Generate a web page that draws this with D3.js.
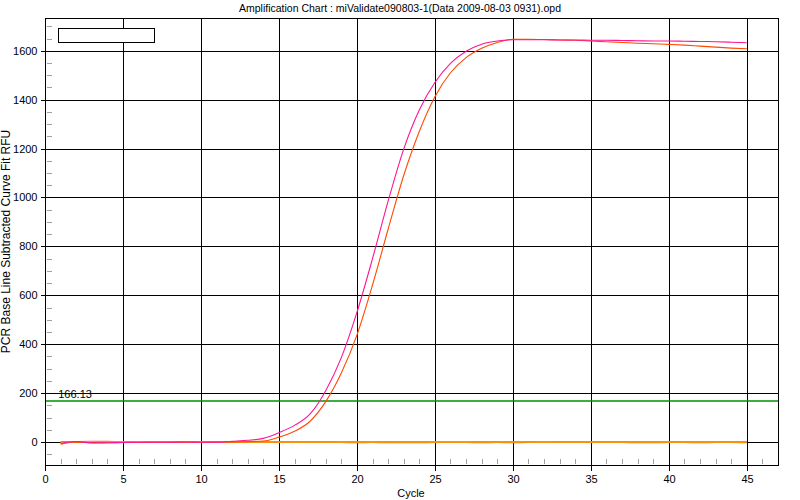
<!DOCTYPE html>
<html><head><meta charset="utf-8">
<script src="https://cdn.jsdelivr.net/npm/d3@7"></script>
<style>body{margin:0;background:#fff} text{font-family:"Liberation Sans",Arial,sans-serif;fill:#000}</style>
</head><body><svg id="c" width="800" height="500"></svg>
<script>
const title = "Amplification Chart : miValidate090803-1(Data 2009-08-03 0931).opd";
const xLabel = "Cycle";
const yLabel = "PCR Base Line Subtracted Curve Fit RFU";
const cycles = d3.range(1, 46);
const xTicks = [0, 5, 10, 15, 20, 25, 30, 35, 40, 45];
const yTicks = [0, 200, 400, 600, 800, 1000, 1200, 1400, 1600];
const threshold = 166.13;

// magenta well
const wellA = [-6,2,-3,-3,-2,-1,-1,-1,0,-1,-1,3,7,15,38,68,115,210,345,530,750,985,1198,1358,1470,1548,1598,1627,1640,1645,1645,1645,1644,1644,1643,1643,1642,1641,1640,1640,1639,1638,1637,1635,1633];
// orange-red well
const wellB = [-9,0,-4,-3,-2,-2,-1,-1,-1,-1,0,0,2,4,20,44,85,165,282,437,642,870,1090,1270,1412,1510,1572,1610,1634,1647,1647,1646,1644,1643,1640,1637,1634,1631,1629,1626,1623,1619,1615,1611,1608];
// near-zero wells
const ntcBlack = [0,0,1,0,0,-1,0,0,0,-1,0,0,0,0,0,0,0,0,-1,0,-1,0,0,0,-1,-1,-1,0,0,0,0,-1,0,0,0,0,0,0,0,0,0,0,0,0,0];
const ntcDark = [-3,1,2,2,-1,-1,-1,0,-1,-1,-1,-1,0,-1,-1,-1,-1,-1,-1,-2,-1,-2,-2,-2,-1,-1,-1,-2,-1,-2,-1,-1,-1,-1,-1,-1,-1,-2,-2,-1,-1,-2,-1,-1,-2];
const ntcOrange = [-2,0,1,0,0,0,0,0,0,0,0,0,0,0,0,0,0,0,0,0,0,0,0,0,0,0,0,0,0,0,0,0,0,0,0,0,0,0,0,0,0,0,0,0,0];

const series = [
  {values: ntcBlack, color: "#202020", w: 1.2},
  {values: ntcDark, color: "#E07A28", w: 1.6},
  {values: ntcOrange, color: "#FF9A00", w: 1.4},
  {values: wellB, color: "#FF4A00", w: 1.1},
  {values: wellA, color: "#FF1493", w: 1.1}
];

const svg = d3.select("#c");
const L = 45, R = 778, T = 18, B = 465;
const x = d3.scaleLinear().domain([0, 47]).range([L, R]);
const y = d3.scaleLinear().domain([-94, 1734]).range([B, T]);

svg.append("rect").attr("width", 800).attr("height", 500).attr("fill", "#fff");

// minor ticks
const gMinor = svg.append("g").attr("stroke", "#a0a0a0").attr("shape-rendering", "crispEdges");
d3.range(1, 47).filter(d => d % 5 !== 0).forEach(d => {
  gMinor.append("line").attr("x1", Math.round(x(d)) + 0.5).attr("x2", Math.round(x(d)) + 0.5)
    .attr("y1", B - 6).attr("y2", B - 1);
});
d3.range(-50, 1734, 50).filter(d => d % 200 !== 0).forEach(d => {
  gMinor.append("line").attr("y1", Math.round(y(d)) + 0.5).attr("y2", Math.round(y(d)) + 0.5)
    .attr("x1", L + 2).attr("x2", L + 7);
});

// grid
const gGrid = svg.append("g").attr("stroke", "#000").attr("shape-rendering", "crispEdges");
xTicks.filter(d => d > 0).forEach(d => {
  gGrid.append("line").attr("x1", Math.round(x(d)) + 0.5).attr("x2", Math.round(x(d)) + 0.5)
    .attr("y1", T).attr("y2", B);
});
yTicks.forEach(d => {
  gGrid.append("line").attr("y1", Math.round(y(d)) + 0.5).attr("y2", Math.round(y(d)) + 0.5)
    .attr("x1", L).attr("x2", R);
});

// axes
const xAxis = d3.axisBottom(x).tickValues(xTicks).tickSize(5).tickPadding(5).tickSizeOuter(0).tickFormat(d3.format("d"));
const gx = svg.append("g").attr("transform", `translate(0,${B + 0.5})`).call(xAxis);
const yAxis = d3.axisLeft(y).tickValues(yTicks).tickSize(5).tickPadding(3).tickSizeOuter(0).tickFormat(d3.format("d"));
const gy = svg.append("g").attr("transform", `translate(${L + 0.5},0)`).call(yAxis);
[gx, gy].forEach(g => {
  g.select(".domain").remove();
  g.selectAll("line").attr("stroke", "#000").attr("shape-rendering", "crispEdges");
  g.selectAll("text").attr("font-size", 11).attr("font-family", "Liberation Sans, Arial, sans-serif").attr("fill", "#000");
});
gy.selectAll(".tick").each(function(d){ d3.select(this).attr("transform", `translate(0,${Math.round(y(d)) + 0.5})`); });
gx.selectAll(".tick").each(function(d){ d3.select(this).attr("transform", `translate(${Math.round(x(d)) + 0.5},0)`); });

// threshold
const ty = Math.round(y(threshold));
svg.append("line").attr("x1", L + 1).attr("x2", R).attr("y1", ty).attr("y2", ty)
  .attr("stroke", "#009000").attr("stroke-width", 1.4);
svg.append("text").attr("x", x(0.85)).attr("y", ty - 3)
  .attr("font-size", 11).text(threshold.toFixed(2));

// curves
const line = d3.line().x((d, i) => x(cycles[i])).y(d => y(d)).curve(d3.curveMonotoneX);
series.forEach(s => {
  svg.append("path").datum(s.values).attr("d", line)
    .attr("fill", "none").attr("stroke", s.color).attr("stroke-width", s.w);
});

// frame
svg.append("rect").attr("x", L + 0.5).attr("y", T + 0.5).attr("width", R - L).attr("height", B - T)
  .attr("fill", "none").attr("stroke", "#000").attr("shape-rendering", "crispEdges");

// legend box (empty)
svg.append("rect").attr("x", 58.5).attr("y", 28.5).attr("width", 96).attr("height", 14)
  .attr("fill", "#fff").attr("stroke", "#000").attr("shape-rendering", "crispEdges");

// titles
svg.append("text").attr("x", 400).attr("y", 12).attr("text-anchor", "middle")
  .attr("font-size", 10.5).text(title);
svg.append("text").attr("x", 411).attr("y", 497).attr("text-anchor", "middle")
  .attr("font-size", 11).text(xLabel);
svg.append("text").attr("transform", `translate(10,${(T + B) / 2}) rotate(-90)`)
  .attr("text-anchor", "middle").attr("font-size", 12).text(yLabel);
</script></body></html>
